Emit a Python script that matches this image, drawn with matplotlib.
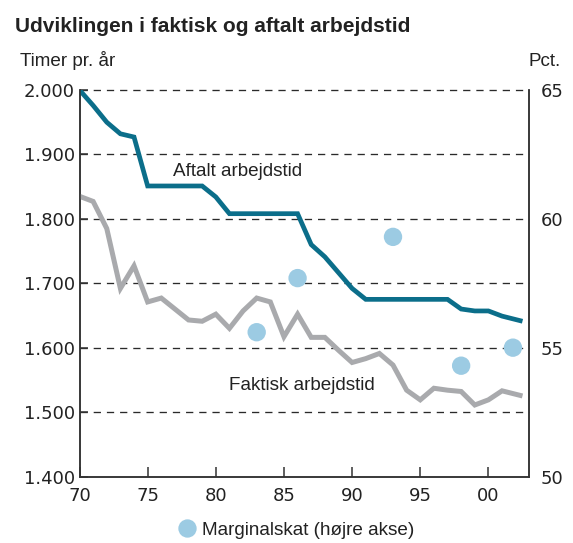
import matplotlib
matplotlib.use("Agg")
import matplotlib.pyplot as plt
from matplotlib.lines import Line2D

# ---- data ----
aftalt_years = [1970, 1971, 1972, 1973, 1974, 1975, 1976, 1977, 1978, 1979, 1980, 1981,
                1982, 1983, 1984, 1985, 1986, 1987, 1988, 1990, 1991, 1992, 1993, 1994,
                1995, 1996, 1997, 1998, 1999, 2000, 2001, 2002.5]
aftalt_hours = [2000, 1976, 1950, 1932, 1927, 1851, 1851, 1851, 1851, 1851, 1834, 1808,
                1808, 1808, 1808, 1808, 1808, 1760, 1741, 1692, 1675, 1675, 1675, 1675,
                1675, 1675, 1675, 1660, 1657, 1657, 1649, 1641]

faktisk_years = [1970, 1971, 1972, 1973, 1974, 1975, 1976, 1977, 1978, 1979, 1980, 1981,
                 1982, 1983, 1984, 1985, 1986, 1987, 1988, 1989, 1990, 1991, 1992, 1993,
                 1994, 1995, 1996, 1997, 1998, 1999, 2000, 2001, 2002.5]
faktisk_hours = [1835, 1827, 1785, 1692, 1727, 1671, 1677, 1660, 1643, 1641, 1652, 1630,
                 1657, 1677, 1671, 1617, 1652, 1616, 1616, 1596, 1577, 1583, 1591, 1573,
                 1534, 1519, 1537, 1534, 1532, 1511, 1519, 1533, 1525]

skat_years = [1983, 1986, 1993, 1998, 2001.8]
skat_pct = [55.6, 57.7, 59.3, 54.3, 55.0]

x_ticks = [1970, 1975, 1980, 1985, 1990, 1995, 2000]
x_labels = ["70", "75", "80", "85", "90", "95", "00"]
y_left_ticks = [1400, 1500, 1600, 1700, 1800, 1900, 2000]
y_left_labels = ["1.400", "1.500", "1.600", "1.700", "1.800", "1.900", "2.000"]
y_right_ticks = [50, 55, 60, 65]
y_right_labels = ["50", "55", "60", "65"]

title = "Udviklingen i faktisk og aftalt arbejdstid"
left_unit = "Timer pr. år"
right_unit = "Pct."
label_aftalt = "Aftalt arbejdstid"
label_faktisk = "Faktisk arbejdstid"
legend_label = "Marginalskat (højre akse)"

# ---- style ----
TEAL = "#0b6e8a"
GREY = "#a9aaad"
DOT = "#9ccbe3"
TXT = "#222222"
SPINE = "#333333"
BODY = ["Liberation Sans", "DejaVu Sans"]
TICKF = ["DejaVu Sans"]

W, H = 573, 543
fig = plt.figure(figsize=(W / 100, H / 100), dpi=100)
ax = fig.add_axes([79.5 / W, 1 - 476.5 / H, (529.3 - 79.5) / W, (476.5 - 90) / H])
ax2 = ax.twinx()

ax.set_xlim(1970, 2003)
ax.set_ylim(1400, 2000)
ax2.set_ylim(50, 65)

# grid lines
for yv in y_left_ticks[1:]:
    ax.axhline(yv, color="#2a2a2a", lw=0.95, ls=(0, (5.5, 4.5)), zorder=1, clip_on=False)

ax.plot(aftalt_years, aftalt_hours, color=TEAL, lw=3.4, solid_joinstyle="miter",
        solid_capstyle="butt", zorder=3)
ax.plot(faktisk_years, faktisk_hours, color=GREY, lw=3.6, solid_joinstyle="miter",
        solid_capstyle="butt", zorder=3)
ax2.scatter(skat_years, skat_pct, s=175, color=DOT, edgecolors="none", zorder=4)

ax.text(1976.85, 1866, label_aftalt, fontsize=13.6, color=TXT, family=BODY,
        ha="left", va="baseline", zorder=5)
ax.text(1981.0, 1535, label_faktisk, fontsize=13.6, color=TXT, family=BODY,
        ha="left", va="baseline", zorder=5)

# spines
for a in (ax, ax2):
    a.spines["top"].set_visible(False)
    for s in ("left", "right", "bottom"):
        a.spines[s].set_color(SPINE)
        a.spines[s].set_linewidth(1.1)

ax.set_xticks(x_ticks)
ax.set_xticklabels(x_labels, family=TICKF, fontsize=13, color=TXT)
ax.set_yticks(y_left_ticks)
ax.set_yticklabels(y_left_labels, family=TICKF, fontsize=13, color=TXT)
ax.tick_params(axis="x", direction="in", length=7, width=1.1, color=SPINE, pad=7.5)
ax.tick_params(axis="y", direction="in", length=6, width=1.1, color=SPINE, pad=3.2)

ax2.set_yticks(y_right_ticks)
ax2.set_yticklabels(y_right_labels, family=TICKF, fontsize=13, color=TXT)
ax2.tick_params(axis="y", direction="in", length=0, pad=8)

# titles / units
fig.text(15 / W, 1 - 32 / H, title, fontsize=15, fontweight="bold", color=TXT,
         family=["Liberation Sans Narrow", "Liberation Sans", "DejaVu Sans"],
         ha="left", va="baseline")
fig.text(20 / W, 1 - 66.5 / H, left_unit, fontsize=13.6, color=TXT, family=BODY,
         ha="left", va="baseline")
fig.text(561 / W, 1 - 66.5 / H, right_unit, fontsize=13.6, color=TXT, family=BODY,
         ha="right", va="baseline")

# legend
handle = Line2D([], [], marker="o", ls="none", markersize=13.2, markerfacecolor=DOT,
                markeredgecolor="none")
fig.legend([handle], [legend_label], loc="center", bbox_to_anchor=(296 / W, 1 - 530 / H),
           frameon=False, prop={"family": BODY, "size": 13.6}, handletextpad=0.3,
           labelcolor=TXT, handlelength=1.0)

fig.savefig("out.png", dpi=100)
